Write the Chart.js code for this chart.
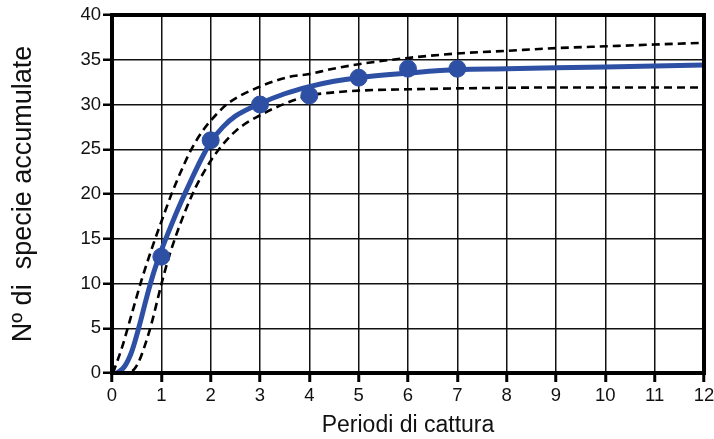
<!DOCTYPE html>
<html lang="it">
<head>
  <meta charset="UTF-8" />
  <title>Curva di accumulo delle specie</title>
  <script src="https://cdn.jsdelivr.net/npm/chart.js@4/dist/chart.umd.min.js"></script>
  <style>
    html, body { margin: 0; padding: 0; background: #fff; }
    #wrap { width: 714px; height: 439px; }
  </style>
</head>
<body>
  <div id="wrap"><canvas id="chart"></canvas></div>

  <script>
    // observed data
    const periods = [1, 2, 3, 4, 5, 6, 7];
    const species = [13, 26, 30, 31, 33, 34, 34];

    // fitted curve
    const fitX = [0.1, 0.25, 0.4, 0.55, 0.7, 0.85, 1, 1.2, 1.4, 1.6, 1.8, 2, 2.25, 2.5, 3, 3.5, 4, 4.5, 5, 6, 7, 8, 9, 10, 11, 12];
    const fitY = [0, 0.7, 2.4, 5.2, 8.4, 11.3, 13.7, 16.5, 19.1, 21.5, 23.8, 25.8, 27.5, 28.7, 30.1, 31.2, 32.0, 32.6, 33.0, 33.5, 33.9, 34.0, 34.1, 34.2, 34.3, 34.4];

    // confidence band, upper
    const upperX = [0.02, 0.2, 0.4, 0.6, 0.85, 1, 1.2, 1.42, 1.6, 1.83, 2.1, 2.37, 3, 3.6, 4, 4.4, 5, 6, 7, 8, 9, 10, 11, 12];
    const upperY = [0, 2.8, 6.6, 10.4, 14.6, 16.9, 19.9, 22.8, 24.9, 27.0, 28.8, 30.2, 32.0, 33.1, 33.4, 33.9, 34.5, 35.2, 35.7, 36.0, 36.3, 36.5, 36.7, 36.9];

    // confidence band, lower
    const lowerX = [0.15, 0.4, 0.52, 0.65, 0.8, 1, 1.15, 1.3, 1.5, 1.7, 1.9, 2.1, 2.5, 3, 3.6, 4, 4.5, 5, 6, 7, 9, 12];
    const lowerY = [0, 0.2, 1.0, 2.8, 5.5, 9.9, 12.9, 15.4, 18.3, 20.8, 22.8, 24.5, 27.0, 28.8, 30.3, 31.0, 31.35, 31.55, 31.7, 31.8, 31.9, 31.9];

    const xTicks = [0, 1, 2, 3, 4, 5, 6, 7, 8, 9, 10, 11, 12];
    const yTicks = [0, 5, 10, 15, 20, 25, 30, 35, 40];

    const BLUE = '#2e50a4';
    const FONT = 'Liberation Sans, Arial, sans-serif';
    const pts = (xs, ys) => xs.map((x, i) => ({ x, y: ys[i] }));

    const frame = {
      id: 'frame',
      afterDatasetsDraw(chart) {
        const { ctx, chartArea: a } = chart;
        ctx.save();
        ctx.strokeStyle = '#000';
        ctx.lineWidth = 4;
        ctx.strokeRect(a.left, a.top, a.right - a.left, a.bottom - a.top);
        ctx.restore();
      },
    };

    const bandStyle = {
      showLine: true,
      borderColor: '#000',
      borderWidth: 2.6,
      borderDash: [8, 5],
      pointRadius: 0,
      cubicInterpolationMode: 'monotone',
      fill: false,
      order: 3,
    };

    new Chart(document.getElementById('chart'), {
      type: 'scatter',
      data: {
        datasets: [
          {
            label: 'Osservati',
            data: pts(periods, species),
            backgroundColor: BLUE,
            borderColor: BLUE,
            pointRadius: 8.5,
            pointHoverRadius: 8.5,
            showLine: false,
            order: 1,
          },
          {
            label: 'Curva',
            data: pts(fitX, fitY),
            showLine: true,
            borderColor: BLUE,
            borderWidth: 5,
            pointRadius: 0,
            cubicInterpolationMode: 'monotone',
            fill: false,
            order: 2,
          },
          Object.assign({ label: 'Sup', data: pts(upperX, upperY) }, bandStyle),
          Object.assign({ label: 'Inf', data: pts(lowerX, lowerY) }, bandStyle),
        ],
      },
      options: {
        responsive: true,
        maintainAspectRatio: false,
        animation: false,
        layout: { padding: { top: 15, right: 10, bottom: 0, left: 0 } },
        plugins: {
          legend: { display: false },
          tooltip: { enabled: false },
        },
        scales: {
          x: {
            type: 'linear',
            min: 0,
            max: 12,
            afterFit: (s) => {
              s.height = 66;
              s.paddingLeft = 0;
              s.paddingRight = 0;
            },
            afterBuildTicks: (s) => { s.ticks = xTicks.map((v) => ({ value: v })); },
            border: { display: false },
            grid: {
              color: '#111',
              lineWidth: 1.5,
              tickLength: 9,
              tickWidth: 3,
              tickColor: '#000',
            },
            ticks: {
              color: '#111',
              padding: 3,
              font: { family: FONT, size: 18.5 },
            },
            title: {
              display: true,
              text: 'Periodi di cattura',
              color: '#111',
              padding: { top: 0, bottom: 0 },
              font: { family: FONT, size: 23 },
            },
          },
          y: {
            min: 0,
            max: 40,
            afterFit: (s) => { s.width = 112; },
            afterBuildTicks: (s) => { s.ticks = yTicks.map((v) => ({ value: v })); },
            border: { display: false },
            grid: {
              color: '#111',
              lineWidth: 1.5,
              tickLength: 9,
              tickWidth: 2.5,
              tickColor: '#000',
            },
            ticks: {
              color: '#111',
              padding: 2,
              font: { family: FONT, size: 18.5 },
            },
            title: {
              display: true,
              text: 'Nº di  specie accumulate',
              color: '#111',
              padding: { top: 7, bottom: 0 },
              font: { family: FONT, size: 27 },
            },
          },
        },
      },
      plugins: [frame],
    });
  </script>
</body>
</html>
